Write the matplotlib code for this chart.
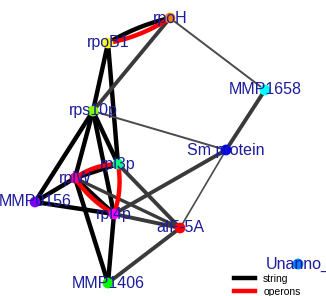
import numpy as np
import matplotlib
matplotlib.use("Agg")
import matplotlib.pyplot as plt
from matplotlib.lines import Line2D

# ---- data ----
node_names = ["rpoH", "rpoB1", "rps10p", "MMP1658", "Sm protein", "rpl3p",
              "rplW", "MMP0156", "rpl4p", "aIF-5A", "MMP1406", "Unanno_"]
node_x = [170, 108, 93, 265, 226, 118, 75, 35, 114, 180, 108, 298]
node_y = [18, 43, 111, 90, 150, 164, 178, 202, 214, 228, 283, 264]
node_colors = ["#FF8000", "#FFFF00", "#80FF00", "#00FFFF", "#0000FF", "#00FF80",
               "#FF0080", "#8000FF", "#FF00FF", "#FF0000", "#00FF00", "#0080FF"]

# string edges: (source, target, width, gray level)
string_src = ["rpoH", "rpoB1", "rpoB1", "rps10p", "rps10p", "rps10p", "rps10p",
              "MMP0156", "MMP0156", "rplW", "rplW", "rplW", "rpl4p",
              "rpoH", "MMP1658", "rpl4p", "rpl4p", "rpl3p", "rplW", "aIF-5A",
              "rpoH", "rps10p", "aIF-5A"]
string_dst = ["rpoB1", "rps10p", "rpl3p", "MMP0156", "rplW", "rpl4p", "rpl3p",
              "rplW", "rpl4p", "rpl3p", "rpl4p", "MMP1406", "MMP1406",
              "rps10p", "Sm protein", "Sm protein", "aIF-5A", "aIF-5A", "aIF-5A", "MMP1406",
              "MMP1658", "Sm protein", "Sm protein"]
string_width = [3.2, 3.2, 3.2, 3.2, 3.2, 3.2, 3.2,
                3.2, 3.2, 3.2, 3.2, 3.2, 3.2,
                2.8, 2.8, 2.8, 2.8, 2.8, 2.4, 2.8,
                1.4, 1.4, 1.2]
string_gray = ["#000000"] * 13 + ["#3a3a3a"] * 7 + ["#4a4a4a"] * 3
string_curve = [0.08] + [0.0] * 22

# operon edges
operon_src = ["rpoH", "rplW", "rplW", "rpl3p"]
operon_dst = ["rpoB1", "rpl3p", "rpl4p", "rpl4p"]
operon_curve = [-0.1, -0.15, 0.12, -0.13]

legend_labels = ["string", "operons"]

# ---- plot ----
fig = plt.figure(figsize=(3.26, 2.96), dpi=100)
ax = fig.add_axes([0, 0, 1, 1])
ax.set_xlim(0, 326)
ax.set_ylim(296, 0)
ax.axis("off")

pos = {n: (x, y) for n, x, y in zip(node_names, node_x, node_y)}


def draw_edge(a, b, curve, color, lw):
    x0, y0 = pos[a]
    x1, y1 = pos[b]
    if curve == 0:
        ax.plot([x0, x1], [y0, y1], color=color, lw=lw, solid_capstyle="butt", zorder=1)
        return
    mx, my = (x0 + x1) / 2, (y0 + y1) / 2
    dx, dy = x1 - x0, y1 - y0
    cx, cy = mx - dy * curve, my + dx * curve
    t = np.linspace(0, 1, 40)
    bx = (1 - t) ** 2 * x0 + 2 * (1 - t) * t * cx + t ** 2 * x1
    by = (1 - t) ** 2 * y0 + 2 * (1 - t) * t * cy + t ** 2 * y1
    ax.plot(bx, by, color=color, lw=lw, solid_capstyle="butt", zorder=1)


for s, d, w, g, c in zip(string_src, string_dst, string_width, string_gray, string_curve):
    draw_edge(s, d, c, g, w)
for s, d, c in zip(operon_src, operon_dst, operon_curve):
    draw_edge(s, d, c, "#FF0000", 3.2)

ax.scatter(node_x, node_y, s=60, c=node_colors, edgecolors="none", zorder=3)
for n, x, y in zip(node_names, node_x, node_y):
    ax.text(x, y, n, ha="center", va="center", color="#1c1c9c",
            fontsize=11.5, family="Liberation Sans", zorder=4)

handles = [Line2D([], [], color="black", lw=3.2), Line2D([], [], color="#FF0000", lw=3.2)]
ax.legend(handles, legend_labels, loc="upper left", bbox_to_anchor=(234 / 326, 1 - 274 / 296),
          frameon=False, handlelength=2.0, handletextpad=0.8,
          labelspacing=0.25, borderpad=0.0, borderaxespad=0.0,
          prop={"family": "Liberation Sans", "size": 7.5})

fig.savefig("out.png", dpi=100, facecolor="white")
